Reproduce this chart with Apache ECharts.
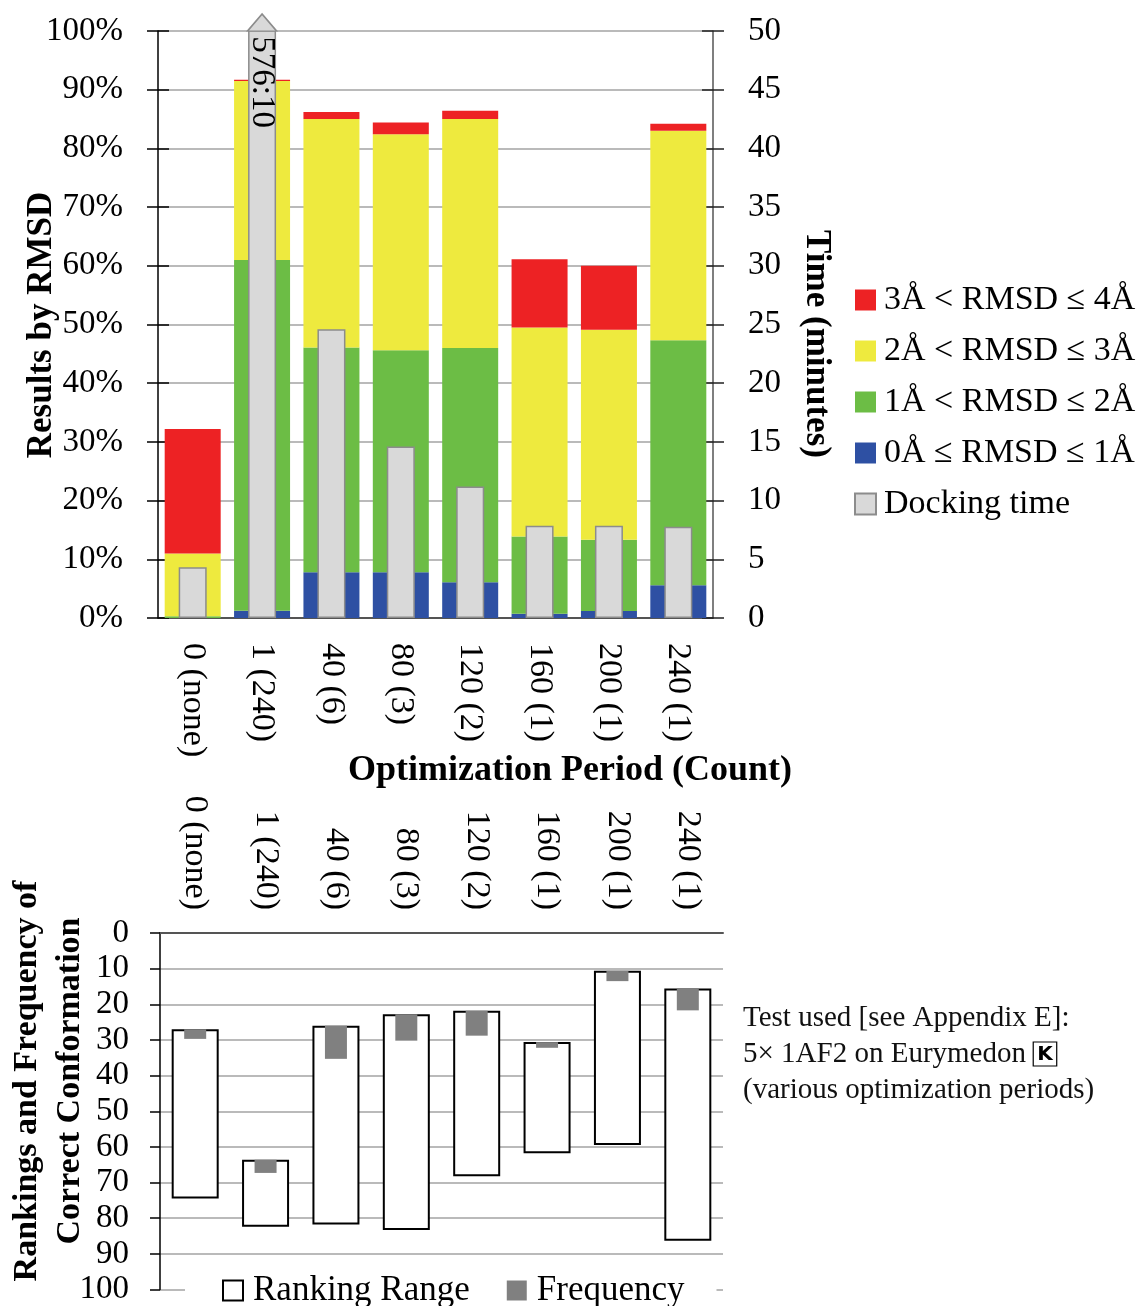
<!DOCTYPE html>
<html>
<head>
<meta charset="utf-8">
<script src="https://cdn.jsdelivr.net/npm/echarts@6/dist/echarts.min.js"></script>
<style>
  html, body { margin: 0; padding: 0; background: #fff; }
  #chart { width: 1141px; height: 1306px; }
</style>
</head>
<body>
<div id="chart"></div>
<script>
// Optimization period (count of optimizations) per test configuration
const categories = ['0 (none)', '1 (240)', '40 (6)', '80 (3)', '120 (2)', '160 (1)', '200 (1)', '240 (1)'];

// Share of results per RMSD band (%), stacked bottom to top
const rmsd0to1 = [0.0, 1.25, 7.8, 7.8, 6.1, 0.74, 1.2, 5.6];
const rmsd1to2 = [0.3, 59.75, 38.3, 37.8, 39.9, 13.16, 12.15, 41.7];
const rmsd2to3 = [10.7, 30.5, 38.9, 36.8, 39.0, 35.6, 35.75, 35.7];
const rmsd3to4 = [21.2, 0.2, 1.2, 2.0, 1.4, 11.6, 10.9, 1.2];

// Docking time in minutes (576:10 = 576 min 10 s)
const dockMinutes = [4.33, 576 + 10 / 60, 24.6, 14.6, 11.2, 7.85, 7.85, 7.78];

// Ranking of the correct conformation: best and worst rank, and frequency
const rankBest = [27.0, 63.6, 26.0, 22.8, 21.8, 30.6, 10.6, 15.6];
const rankWorst = [74.5, 82.4, 81.8, 83.3, 68.2, 61.8, 59.5, 86.3];
const frequency = [2.7, 3.7, 9.3, 7.4, 7.0, 1.6, 2.9, 6.1];

// Axis scales
const pctMax = 100, pctStep = 10;
const timeMax = 50, timeStep = 5;
const rankMax = 100, rankStep = 10;

const SERIF = "'Liberation Serif', 'DejaVu Serif', serif";
const GRID_GRAY = '#a3a3a3';

function minSec(v) {
  const m = Math.floor(v);
  const s = Math.round((v - m) * 60);
  return m + ':' + String(s).padStart(2, '0');
}

const chart = echarts.init(document.getElementById('chart'), null, { renderer: 'canvas' });

const tickLabel = { fontFamily: SERIF, fontSize: 33, color: '#000' };
const catLabel = { fontFamily: SERIF, fontSize: 34, color: '#000' };

const legendNames = ['3Å < RMSD ≤ 4Å', '2Å < RMSD ≤ 3Å', '1Å < RMSD ≤ 2Å', '0Å ≤ RMSD ≤ 1Å', 'Docking time'];

function bandSeries(name, data, color) {
  return {
    name, type: 'bar', stack: 'rmsd', xAxisIndex: 0, yAxisIndex: 0,
    barWidth: 56, data,
    itemStyle: { color }
  };
}

const option = {
  animation: false,
  backgroundColor: '#fff',
  grid: [
    { left: 158, top: 31, width: 555, height: 587 },
    { left: 160, top: 933, width: 563, height: 359 }
  ],
  xAxis: [
    {
      gridIndex: 0, type: 'category', data: categories, position: 'bottom',
      axisLine: { onZero: false, lineStyle: { color: '#333', width: 1.5 } },
      axisTick: { show: false },
      axisLabel: Object.assign({ margin: 25, interval: 0, rotate: -90 }, catLabel)
    },
    {
      gridIndex: 0, type: 'category', data: categories, position: 'top', show: false
    },
    {
      gridIndex: 1, type: 'category', data: categories, position: 'top',
      axisLine: { onZero: false, lineStyle: { color: '#555', width: 2 } },
      axisTick: { show: false },
      axisLabel: Object.assign({ margin: 23, interval: 0, rotate: 90 }, catLabel)
    },
    {
      gridIndex: 1, type: 'category', data: categories, position: 'bottom', show: false
    }
  ],
  yAxis: [
    {
      gridIndex: 0, type: 'value', min: 0, max: pctMax, interval: pctStep, position: 'left',
      axisLine: { show: true, lineStyle: { color: '#000', width: 1.5 } },
      axisTick: { show: true, length: 11, lineStyle: { color: '#000', width: 1.5 } },
      axisLabel: Object.assign({ margin: 35, formatter: '{value}%' }, tickLabel),
      splitLine: { show: true, lineStyle: { color: GRID_GRAY, width: 1.5 } }
    },
    {
      gridIndex: 0, type: 'value', min: 0, max: timeMax, interval: timeStep, position: 'right',
      axisLine: { show: true, lineStyle: { color: '#555', width: 1.5 } },
      axisTick: { show: true, length: 11, lineStyle: { color: '#222', width: 1.5 } },
      axisLabel: Object.assign({ margin: 35 }, tickLabel),
      splitLine: { show: false }
    },
    {
      // inner half of the crossing ticks on the left axis
      gridIndex: 0, type: 'value', min: 0, max: pctMax, interval: pctStep, position: 'left',
      axisLine: { show: false },
      axisTick: { show: true, inside: true, length: 11, lineStyle: { color: '#000', width: 1.5 } },
      axisLabel: { show: false }, splitLine: { show: false }
    },
    {
      // inner half of the crossing ticks on the right axis
      gridIndex: 0, type: 'value', min: 0, max: timeMax, interval: timeStep, position: 'right',
      axisLine: { show: false },
      axisTick: { show: true, inside: true, length: 11, lineStyle: { color: '#222', width: 1.5 } },
      axisLabel: { show: false }, splitLine: { show: false }
    },
    {
      gridIndex: 1, type: 'value', min: 0, max: rankMax, interval: rankStep, position: 'left', inverse: true,
      axisLine: { show: true, lineStyle: { color: '#000', width: 1.5 } },
      axisTick: { show: true, length: 10, lineStyle: { color: '#000', width: 1.5 } },
      axisLabel: Object.assign({ margin: 31 }, tickLabel),
      splitLine: { show: true, lineStyle: { color: GRID_GRAY, width: 1.5 } }
    }
  ],
  legend: [
    {
      data: legendNames,
      orient: 'vertical', left: 849, top: 278,
      itemWidth: 21, itemHeight: 21, itemGap: 17,
      icon: 'rect', selectedMode: false,
      textStyle: { fontFamily: SERIF, fontSize: 34, color: '#000', lineHeight: 34, padding: [0, 0, 0, 3] }
    },
    {
      data: ['Ranking Range', 'Frequency'],
      orient: 'horizontal', left: 185, top: 1268,
      backgroundColor: '#fff', padding: [5, 32, 5, 37],
      itemWidth: 20, itemHeight: 20, itemGap: 37,
      icon: 'rect', selectedMode: false,
      textStyle: { fontFamily: SERIF, fontSize: 35, color: '#000', lineHeight: 35, padding: [0, 0, 0, 5] }
    }
  ],
  graphic: [
    {
      type: 'text', x: 42, y: 325, rotation: Math.PI / 2,
      style: { text: 'Results by RMSD', font: "bold 35px 'Liberation Serif', serif", fill: '#000', align: 'center', verticalAlign: 'middle' }
    },
    {
      type: 'text', x: 816, y: 344, rotation: -Math.PI / 2,
      style: { text: 'Time (minutes)', font: "bold 35px 'Liberation Serif', serif", fill: '#000', align: 'center', verticalAlign: 'middle' }
    },
    {
      type: 'text', x: 570, y: 771,
      style: { text: 'Optimization Period (Count)', font: "bold 36px 'Liberation Serif', serif", fill: '#000', align: 'center', verticalAlign: 'middle' }
    },
    {
      type: 'text', x: 49, y: 1081, rotation: Math.PI / 2,
      style: {
        text: 'Rankings and Frequency of\nCorrect Conformation',
        font: "bold 34px 'Liberation Serif', serif", lineHeight: 43,
        fill: '#000', align: 'center', verticalAlign: 'middle'
      }
    },
    {
      type: 'text', x: 743, y: 1000,
      style: {
        text: 'Test used [see Appendix E]:\n5× 1AF2 on Eurymedon {k|K}\n(various optimization periods)',
        font: "29px 'Liberation Serif', serif", lineHeight: 36, fill: '#111',
        rich: {
          k: {
            fontFamily: "'DejaVu Sans', sans-serif", fontWeight: 'bold', fontSize: 20,
            borderColor: '#000', borderWidth: 1.2, padding: [3, 4, 1, 4], fill: '#000'
          }
        }
      }
    }
  ],
  series: [
    bandSeries('0Å ≤ RMSD ≤ 1Å', rmsd0to1, '#2e50a3'),
    bandSeries('1Å < RMSD ≤ 2Å', rmsd1to2, '#6cbd45'),
    bandSeries('2Å < RMSD ≤ 3Å', rmsd2to3, '#eeea3e'),
    bandSeries('3Å < RMSD ≤ 4Å', rmsd3to4, '#ed2224'),
    {
      name: 'Docking time', type: 'bar', xAxisIndex: 1, yAxisIndex: 1,
      barWidth: 28, clip: true,
      itemStyle: { color: '#d9d9d9', borderColor: '#8c8c8c', borderWidth: 1.5 },
      data: dockMinutes.map(v => v > timeMax ? {
        value: v,
        label: {
          show: true, position: 'insideTop', distance: 6, rotate: -90,
          align: 'left', verticalAlign: 'middle',
          fontFamily: SERIF, fontSize: 33, color: '#000',
          formatter: p => minSec(p.value)
        }
      } : v),
      markPoint: {
        silent: true,
        label: { show: false },
        itemStyle: { color: '#d9d9d9', borderColor: '#8c8c8c', borderWidth: 1.5 },
        data: dockMinutes
          .map((v, i) => ({ v, i }))
          .filter(d => d.v > timeMax)
          .map(d => ({
            coord: [categories[d.i], timeMax],
            symbol: 'triangle', symbolSize: [29, 17], symbolOffset: [0, -8.5]
          }))
      }
    },
    {
      name: 'rankOffset', type: 'bar', stack: 'rank', xAxisIndex: 2, yAxisIndex: 4,
      barWidth: 47, silent: true,
      itemStyle: { color: 'rgba(0,0,0,0)' },
      data: rankBest
    },
    {
      name: 'Ranking Range', type: 'bar', stack: 'rank', xAxisIndex: 2, yAxisIndex: 4,
      barWidth: 47,
      itemStyle: { color: '#fff', borderColor: '#000', borderWidth: 2 },
      data: rankWorst.map((w, i) => +(w - rankBest[i]).toFixed(2))
    },
    {
      name: 'freqOffset', type: 'bar', stack: 'freq', xAxisIndex: 3, yAxisIndex: 4,
      barWidth: 22, silent: true,
      itemStyle: { color: 'rgba(0,0,0,0)' },
      data: rankBest
    },
    {
      name: 'Frequency', type: 'bar', stack: 'freq', xAxisIndex: 3, yAxisIndex: 4,
      barWidth: 22, z: 3,
      itemStyle: { color: '#808080' },
      data: frequency
    }
  ]
};

chart.setOption(option);
</script>
</body>
</html>
